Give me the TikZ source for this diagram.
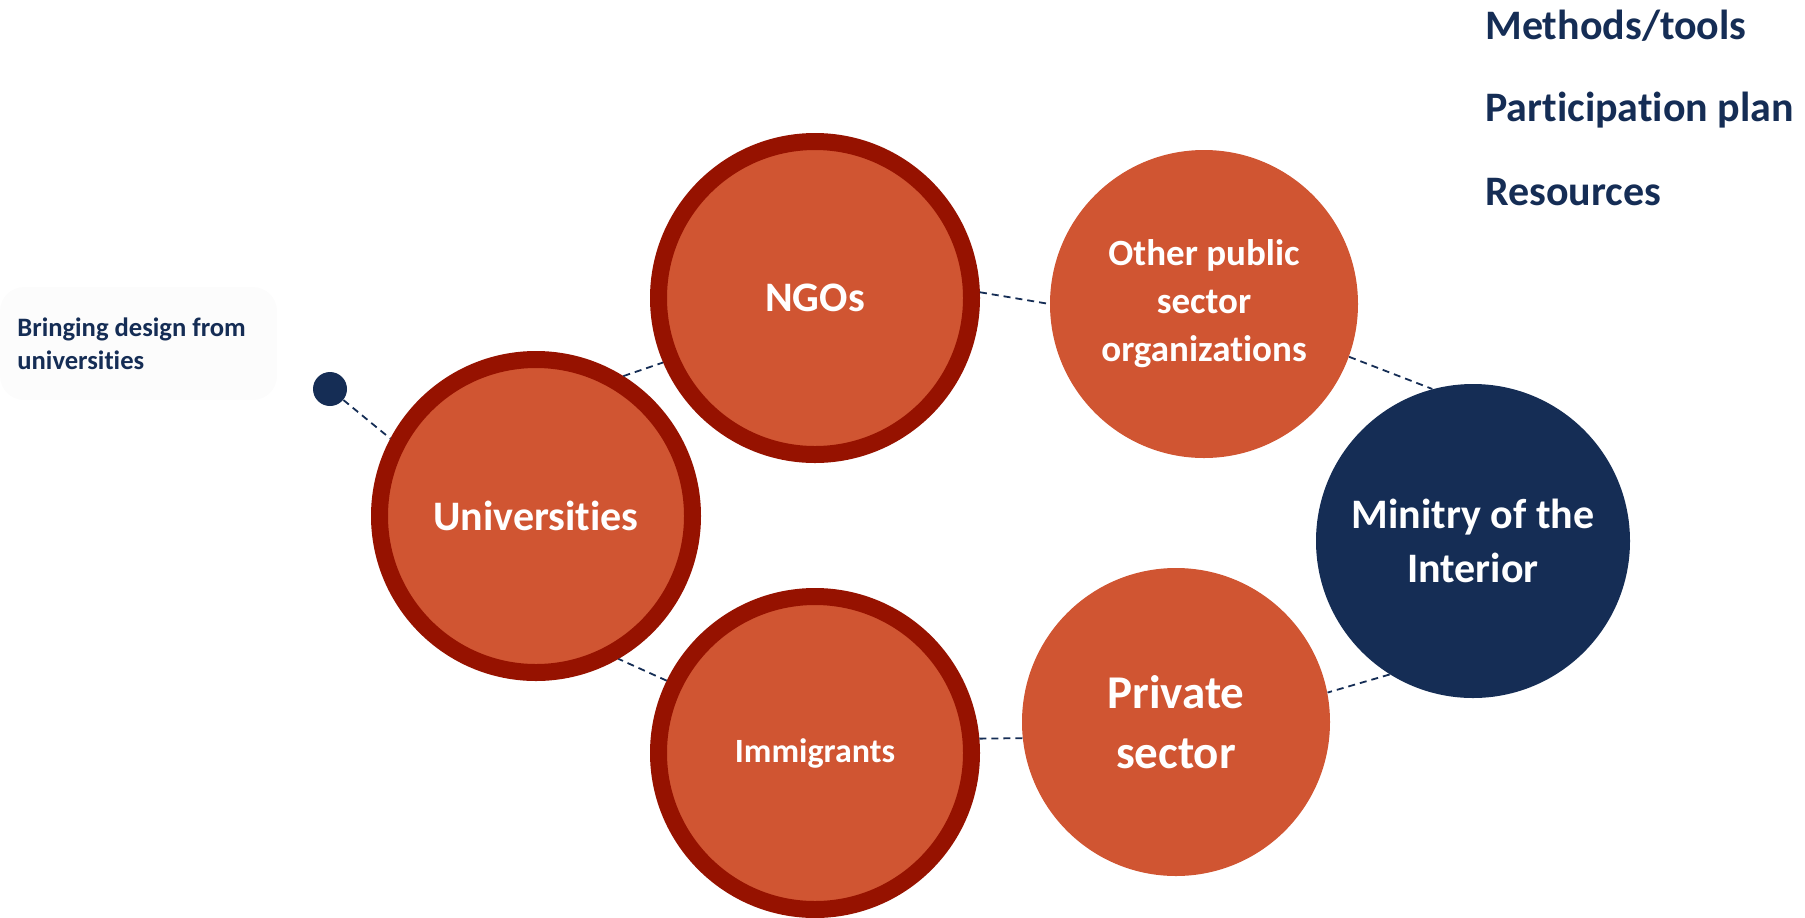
\documentclass[tikz,border=0pt]{standalone}
\usepackage{fontspec}
\setmainfont{Carlito}[Ligatures=NoCommon]
\definecolor{burnt}{RGB}{208,85,50}
\definecolor{rust}{RGB}{150,18,0}
\definecolor{navy}{RGB}{21,45,85}
\definecolor{haze}{RGB}{252,252,252}
\begin{document}
\begin{tikzpicture}[x=0.5pt,y=-0.5pt]
	\tikzset{
		ringed/.style={circle, fill=burnt, draw=rust, line width=8.5pt, minimum size=156.5pt, inner sep=0pt, text=white, font=\bfseries, align=center},
		plain/.style={circle, fill=burnt, inner sep=0pt, text=white, font=\bfseries, align=center},
		link/.style={draw=navy, line width=0.9pt, dash pattern=on 3.5pt off 2.5pt},
		heading/.style={anchor=base west, text=navy, font=\bfseries\fontsize{21pt}{24pt}\selectfont, inner sep=0pt}
	}

	\useasboundingbox (0,0) rectangle (1805,917);

	\fill[haze, rounded corners=12pt] (0,287) rectangle (277,400);
	\node[anchor=base west, text=navy, font=\bfseries\fontsize{13.3pt}{16.5pt}\selectfont, align=left, inner sep=0pt] (note) at (17,369) {Bringing design from\\universities};
	\node[circle, fill=navy, minimum size=17pt, inner sep=0pt] (dot) at (330,389) {};

	\node[heading] (methods) at (1485,39) {Methods/tools};
	\node[heading] (plan) at (1485,121) {Participation plan};
	\node[heading] (resources) at (1485,205) {Resources};

	\node[ringed, font=\bfseries\fontsize{21pt}{27pt}\selectfont] (ngo) at (815,298) {NGOs};
	\node[ringed, font=\bfseries\fontsize{21pt}{27pt}\selectfont] (uni) at (536,516) {Universities};
	\node[ringed, font=\bfseries\fontsize{17pt}{22pt}\selectfont] (imm) at (815,753) {Immigrants};
	\node[plain, minimum size=154pt, font=\bfseries\fontsize{18.5pt}{24pt}\selectfont] (other) at (1204,304) {Other public\\sector\\organizations};
	\node[plain, fill=navy, minimum size=157pt, font=\bfseries\fontsize{21pt}{27pt}\selectfont] (mint) at (1473,541) {Minitry of the\\Interior};
	\node[plain, minimum size=154pt, font=\bfseries\fontsize{23.5pt}{30pt}\selectfont] (priv) at (1176,722) {Private\\sector};

	\draw[link] (dot) -- (uni.152);
	\draw[link] (uni.58) -- (ngo.203);
	\draw[link] (ngo.2) -- (other.180);
	\draw[link] (other.340) -- (mint.105);
	\draw[link] (mint.238) -- (priv.11);
	\draw[link] (priv.186) -- (imm.5);
	\draw[link] (imm.154) -- (uni.300);

\end{tikzpicture}
\end{document}
